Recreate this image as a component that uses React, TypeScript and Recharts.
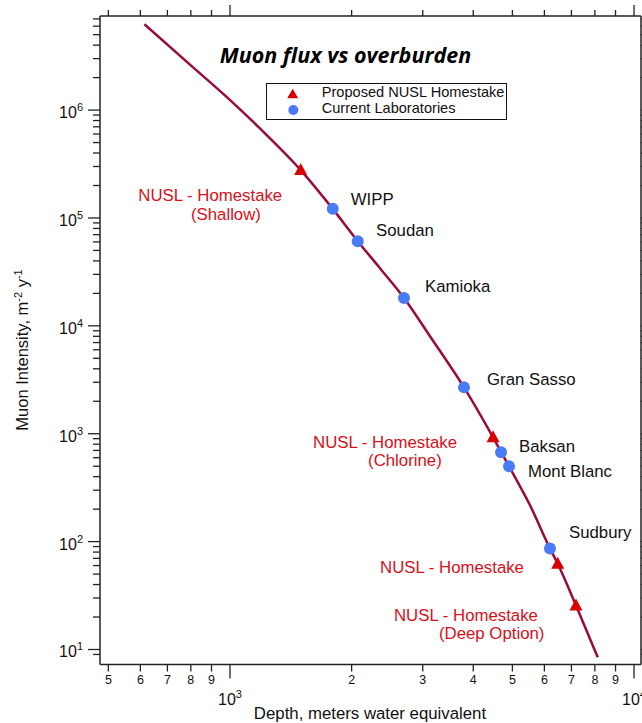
import React from 'react';
import { ComposedChart, Line, Scatter, XAxis, YAxis } from 'recharts';

// ---- data ----
const curveDepth = [614, 796, 990, 1186, 1496, 1796, 2071, 2351, 2696, 3126, 3795, 4478, 4905, 5529, 6194, 6474, 7185, 8132];
const curveFlux = [6.24e6, 2.64e6, 1.284e6, 6.76e5, 2.78e5, 1.215e5, 6.09e4, 3.42e4, 1.815e4, 8020, 2690, 927, 499, 217, 86.5, 62.4, 25.6, 8.48];

const nuslNames = ['Shallow', 'Chlorine', 'Homestake', 'Deep Option'];
const nuslDepth = [1496, 4478, 6474, 7185];
const nuslFlux = [2.78e5, 927, 62.4, 25.6];
const nuslLabels = [
  ['NUSL - Homestake', '(Shallow)'],
  ['NUSL - Homestake', '(Chlorine)'],
  ['NUSL - Homestake'],
  ['NUSL - Homestake', '(Deep Option)'],
];

const labNames = ['WIPP', 'Soudan', 'Kamioka', 'Gran Sasso', 'Baksan', 'Mont Blanc', 'Sudbury'];
const labDepth = [1796, 2071, 2696, 3795, 4687, 4905, 6194];
const labFlux = [1.215e5, 6.09e4, 1.815e4, 2690, 672, 499, 86.5];

const xMajorTicks = [1000, 10000];
const xMajorExps = ['3', '4'];
const xMinorTicks = [500, 600, 700, 800, 900, 2000, 3000, 4000, 5000, 6000, 7000, 8000, 9000];
const xMinorLabels = ['5', '6', '7', '8', '9', '2', '3', '4', '5', '6', '7', '8', '9'];

const yMajorTicks = [10, 100, 1000, 10000, 100000, 1000000];
const yMajorExps = ['1', '2', '3', '4', '5', '6'];
const yMinorTicks = [
  9,
  20, 30, 40, 50, 60, 70, 80, 90,
  200, 300, 400, 500, 600, 700, 800, 900,
  2000, 3000, 4000, 5000, 6000, 7000, 8000, 9000,
  20000, 30000, 40000, 50000, 60000, 70000, 80000, 90000,
  200000, 300000, 400000, 500000, 600000, 700000, 800000, 900000,
  2000000, 3000000, 4000000, 5000000, 6000000, 7000000,
];

const xDomain = [476.7, 10406];
const yDomain = [7.26, 7.45e6];

// ---- styles ----
const FONT = '"Liberation Sans", Arial, Helvetica, sans-serif';
const AXIS = '#222';
const CURVE = '#9a0b3d';
const TRI = '#d80000';
const DOT = '#4a7bf6';
const RED_TEXT = '#d8101a';
const LABEL_SIZE = 16.8;

const nuslOffsets = [
  [{ dx: -162.4, dy: 31 }, { dx: -109.7, dy: 49.5 }],
  [{ dx: -180, dy: 11 }, { dx: -125, dy: 29 }],
  [{ dx: -177.7, dy: 9.7 }],
  [{ dx: -182, dy: 16 }, { dx: -137, dy: 34 }],
];
const labOffsets = [
  { dx: 18, dy: -3.7 },
  { dx: 18.3, dy: -5 },
  { dx: 21, dy: -6 },
  { dx: 23, dy: -2 },
  { dx: 18, dy: 0 },
  { dx: 19, dy: 11 },
  { dx: 19, dy: -10 },
];

const curveData = curveDepth.map((x, i) => ({ x, y: curveFlux[i] }));
const nuslData = nuslDepth.map((x, i) => ({ x, y: nuslFlux[i], i, name: nuslNames[i] }));
const labData = labDepth.map((x, i) => ({ x, y: labFlux[i], i, name: labNames[i] }));
const xTicks = [...xMinorTicks, ...xMajorTicks].sort((a, b) => a - b);
const yTicks = [...yMinorTicks, ...yMajorTicks].sort((a, b) => a - b);

const near = (a: number, b: number) => Math.abs(a - b) / b < 1e-6;

const BottomTick = (props: any) => {
  const { x, y, payload } = props;
  const v = payload.value;
  const mi = xMajorTicks.findIndex((t) => near(v, t));
  if (mi >= 0) {
    return (
      <g>
        <line x1={x} y1={y} x2={x} y2={y + 14} stroke={AXIS} strokeWidth={1.3} />
        <text x={x} y={y + 40} textAnchor="middle" fontFamily={FONT} fontSize={16} fill="#111">
          <tspan>10</tspan>
          <tspan dy={-7} fontSize={11}>{xMajorExps[mi]}</tspan>
        </text>
      </g>
    );
  }
  const ni = xMinorTicks.findIndex((t) => near(v, t));
  return (
    <g>
      <line x1={x} y1={y} x2={x} y2={y + 7} stroke={AXIS} strokeWidth={1.3} />
      <text x={x} y={y + 19.5} textAnchor="middle" fontFamily={FONT} fontSize={12.5} fill="#111">
        {ni >= 0 ? xMinorLabels[ni] : ''}
      </text>
    </g>
  );
};

const TopTick = (props: any) => {
  const { x, y, payload } = props;
  const major = xMajorTicks.some((t) => near(payload.value, t));
  return <line x1={x} y1={y} x2={x} y2={y - (major ? 11 : 6)} stroke={AXIS} strokeWidth={1.3} />;
};

const LeftTick = (props: any) => {
  const { x, y, payload } = props;
  const v = payload.value;
  const mi = yMajorTicks.findIndex((t) => near(v, t));
  if (mi >= 0) {
    return (
      <g>
        <line x1={x - 12} y1={y} x2={x} y2={y} stroke={AXIS} strokeWidth={1.3} />
        <text x={x - 17} y={y + 8} textAnchor="end" fontFamily={FONT} fontSize={16} fill="#111">
          <tspan>10</tspan>
          <tspan dy={-7} fontSize={11}>{yMajorExps[mi]}</tspan>
        </text>
      </g>
    );
  }
  return <line x1={x - 7} y1={y} x2={x} y2={y} stroke={AXIS} strokeWidth={1.3} />;
};

const RightTick = (props: any) => {
  const { x, y, payload } = props;
  const major = yMajorTicks.some((t) => near(payload.value, t));
  return <line x1={x} y1={y} x2={x + (major ? 12 : 7)} y2={y} stroke={AXIS} strokeWidth={1.3} />;
};

const Triangle = (props: any) => {
  const { cx, cy, payload } = props;
  if (cx == null || cy == null) return null;
  const i = payload.i;
  const lines = nuslLabels[i];
  const offs = nuslOffsets[i];
  return (
    <g>
      <polygon points={`${cx},${cy - 7} ${cx + 6.5},${cy + 5} ${cx - 6.5},${cy + 5}`} fill={TRI} />
      {lines.map((t, k) => (
        <text key={k} x={cx + offs[k].dx} y={cy + offs[k].dy} fontFamily={FONT} fontSize={LABEL_SIZE} fill={RED_TEXT}>
          {t}
        </text>
      ))}
    </g>
  );
};

const Dot = (props: any) => {
  const { cx, cy, payload } = props;
  if (cx == null || cy == null) return null;
  const i = payload.i;
  const o = labOffsets[i];
  return (
    <g>
      <circle cx={cx} cy={cy} r={6} fill={DOT} />
      <text x={cx + o.dx} y={cy + o.dy} fontFamily={FONT} fontSize={LABEL_SIZE} fill="#111">
        {labNames[i]}
      </text>
    </g>
  );
};

const LegendBox = () => (
  <div
    style={{
      position: 'absolute', left: 266, top: 83, width: 241, height: 37,
      border: '1px solid #111', boxSizing: 'border-box', background: '#fff',
    }}
  >
    <svg width={239} height={35} style={{ display: 'block' }}>
      <polygon points="25.7,4.8 31.2,14.3 20.2,14.3" fill={TRI} />
      <circle cx={26.3} cy={26} r={5} fill={DOT} />
      <text x={54.7} y={12.7} fontFamily={FONT} fontSize={14.6} fill="#111">Proposed NUSL Homestake</text>
      <text x={54.7} y={29.3} fontFamily={FONT} fontSize={14.6} fill="#111">Current Laboratories</text>
    </svg>
  </div>
);

export default function App() {
  return (
    <div style={{ position: 'absolute', left: 0, top: 0, width: 642, height: 723, background: '#fff' }}>
      <ComposedChart
        width={642}
        height={723}
        margin={{ top: 15, right: 0, bottom: 57.5, left: 99 }}
      >
        <XAxis
          dataKey="x"
          type="number"
          scale="log"
          domain={xDomain}
          allowDataOverflow
          ticks={xTicks}
          interval={0}
          tickSize={0}
          tickMargin={0}
          height={1}
          tick={<BottomTick />}
          axisLine={{ stroke: AXIS, strokeWidth: 1.5 }}
          tickLine={false}
        />
        <XAxis
          xAxisId="top"
          orientation="top"
          dataKey="x"
          type="number"
          scale="log"
          domain={xDomain}
          allowDataOverflow
          ticks={xTicks}
          interval={0}
          tickSize={0}
          tickMargin={0}
          height={1}
          tick={<TopTick />}
          axisLine={{ stroke: AXIS, strokeWidth: 1.5 }}
          tickLine={false}
        />
        <YAxis
          dataKey="y"
          type="number"
          scale="log"
          domain={yDomain}
          allowDataOverflow
          ticks={yTicks}
          interval={0}
          tickSize={0}
          tickMargin={0}
          width={1}
          tick={<LeftTick />}
          axisLine={{ stroke: AXIS, strokeWidth: 1.5 }}
          tickLine={false}
        />
        <YAxis
          yAxisId="right"
          orientation="right"
          dataKey="y"
          type="number"
          scale="log"
          domain={yDomain}
          allowDataOverflow
          ticks={yTicks}
          interval={0}
          tickSize={0}
          tickMargin={0}
          width={1}
          tick={<RightTick />}
          axisLine={{ stroke: AXIS, strokeWidth: 1.5 }}
          tickLine={false}
        />
        <Line
          data={curveData}
          dataKey="y"
          type="monotone"
          stroke={CURVE}
          strokeWidth={2.5}
          dot={false}
          activeDot={false}
          isAnimationActive={false}
          legendType="none"
        />
        <Scatter data={nuslData} dataKey="y" name="Proposed NUSL Homestake" shape={<Triangle />} isAnimationActive={false} />
        <Scatter data={labData} dataKey="y" name="Current Laboratories" shape={<Dot />} isAnimationActive={false} />
      </ComposedChart>
      <LegendBox />
      <svg
        width={642}
        height={723}
        style={{ position: 'absolute', left: 0, top: 0, pointerEvents: 'none' }}
      >
        <text x={345.5} y={63} textAnchor="middle" fontFamily='"Open Sans", sans-serif' fontWeight={700} fontStyle="italic" fontSize={21.5} fill="#000">
          Muon flux vs overburden
        </text>
        <text x={370} y={719} textAnchor="middle" fontFamily={FONT} fontSize={16.8} fill="#111">
          Depth, meters water equivalent
        </text>
        <text transform="translate(28,350) rotate(-90)" textAnchor="middle" fontFamily={FONT} fontSize={16.5} fill="#111">
          <tspan>Muon Intensity, m</tspan>
          <tspan dy={-6} fontSize={11}>-2</tspan>
          <tspan dy={6}> y</tspan>
          <tspan dy={-6} fontSize={11}>-1</tspan>
        </text>
      </svg>
    </div>
  );
}
